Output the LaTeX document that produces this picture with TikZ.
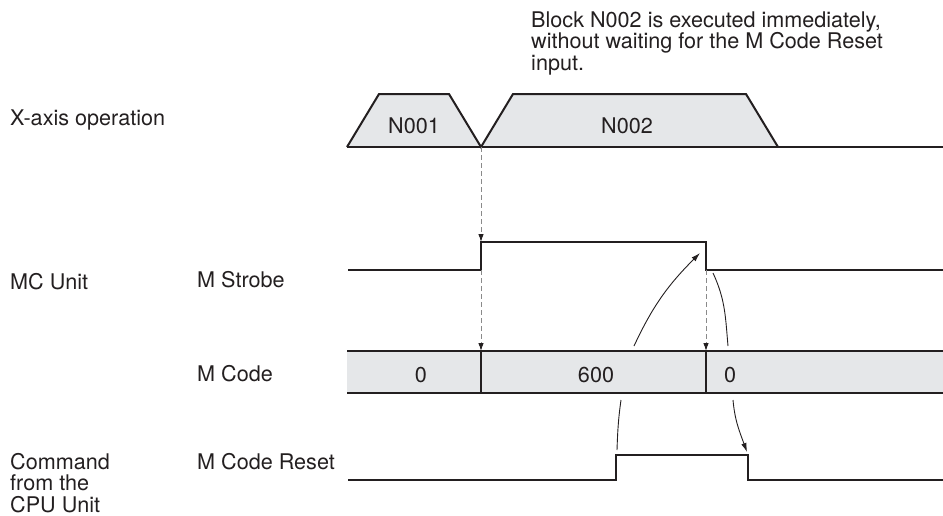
\documentclass[tikz,border=0pt]{standalone}
\usepackage{fontspec}
\setmainfont{TeX Gyre Heros}
\usetikzlibrary{arrows.meta}
\definecolor{fillgray}{HTML}{E5E7E9}
\definecolor{dashgray}{HTML}{8A8A8A}
\definecolor{inkc}{HTML}{231F20}
\begin{document}
\begin{tikzpicture}[x=1pt,y=1pt,
  lbl/.style={anchor=base west, inner sep=0pt, text=inkc,
    font=\fontsize{21.6}{21.5}\selectfont, align=left},
  clbl/.style={lbl, anchor=base},
  sig/.style={inkc, line width=2pt, line join=miter},
  thinline/.style={inkc, line width=0.9pt},
  thinarrow/.style={thinline, -{Latex[length=9pt,width=5.5pt]}},
  dashy/.style={dashgray, line width=0.9pt, dash pattern=on 5pt off 3pt,
    -{Latex[length=8pt,width=5.5pt,color=inkc]}},
  ]
\useasboundingbox (0,0) rectangle (943,-515);

% left labels
\node[lbl] (xaxis) at (10,-125) {X-axis operation};
\node[lbl] (mcunit) at (10,-289) {MC Unit};
\node[lbl] (mstrobe) at (197,-287) {M Strobe};
\node[lbl] (mcode) at (197,-381) {M Code};
\node[lbl] (mreset) at (197,-469) {M Code Reset};
% multi-line nodes: base anchor is on the last line
\node[lbl] (cmd) at (10,-512) {Command\\from the\\CPU Unit};
\node[lbl] (note) at (531,-70) {Block N002 is executed immediately,\\without waiting for the M Code Reset\\input.};

% X-axis trapezoids
\fill[fillgray] (347,-147) -- (379,-94) -- (449,-94) -- (481,-147) -- cycle;
\fill[fillgray] (481,-147) -- (513,-94) -- (746,-94) -- (778,-147) -- cycle;
\draw[sig] (347,-147) -- (379,-94) -- (449,-94) -- (481,-147) -- (513,-94) -- (746,-94) -- (778,-147);
\draw[sig] (347,-147) -- (943,-147);
\node[clbl] (n001) at (414,-133) {N001};
\node[clbl] (n002) at (627,-133) {N002};
\coordinate (j1) at (481,-147);

% M Strobe
\coordinate (srtop) at (481,-242);
\coordinate (srbot) at (481,-270);
\coordinate (sftop) at (706,-242);
\coordinate (sfbot) at (706,-270);
\draw[sig] (348,-270) -- (srbot) -- (srtop) -- (sftop) -- (sfbot) -- (943,-270);

% M Code bar
\fill[fillgray] (347,-351) rectangle (943,-393);
\draw[sig] (347,-351) -- (943,-351);
\draw[sig] (347,-393) -- (943,-393);
\coordinate (d1t) at (481,-351);
\coordinate (d2t) at (706,-351);
\draw[thinline, line width=1.2pt] (d1t) -- (481,-393);
\draw[thinline, line width=1.2pt] (d2t) -- (706,-393);
\node[clbl] (c0) at (421,-382) {0};
\node[clbl] (c600) at (596,-382) {600};
\node[clbl] (c0b) at (730,-382) {0};

% M Code Reset
\coordinate (rr) at (616,-455);
\coordinate (rf) at (748,-455);
\draw[sig] (348,-480) -- (616,-480) -- (rr) -- (rf) -- (748,-480) -- (943,-480);

% dashed arrows
\draw[dashy] (j1) -- (srtop);
\draw[dashy] (srbot) -- (d1t);
\draw[dashy] (sfbot) -- (d2t);

% curved connectors
\coordinate (a1s) at (634,-346);
\coordinate (a1e) at (700,-253);
\draw[thinarrow] (a1s) to[out=65,in=225] (a1e);
\coordinate (a2s) at (713,-273);
\coordinate (a2e) at (728,-346);
\draw[thinline] (a2s) to[out=-65,in=95] (a2e);
\coordinate (a3s) at (621,-400);
\coordinate (a3e) at (617,-450);
\draw[thinline] (a3s) to[out=-98,in=88] (a3e);
\coordinate (a4s) at (733,-400);
\coordinate (a4e) at (747,-452);
\draw[thinarrow] (a4s) to[out=-85,in=110] (a4e);
\end{tikzpicture}
\end{document}
